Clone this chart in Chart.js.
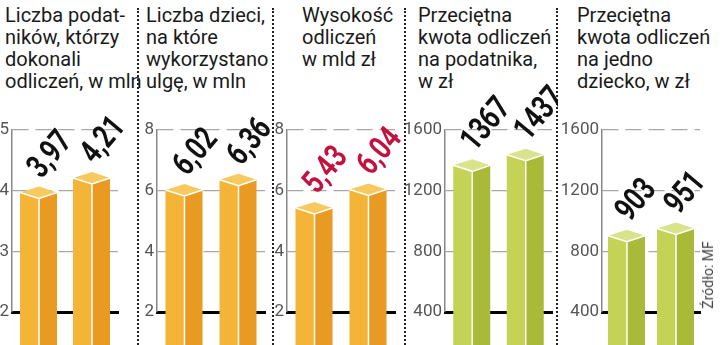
<!DOCTYPE html>
<html>
<head>
<meta charset="utf-8">
<script src="https://cdn.jsdelivr.net/npm/chart.js@4.4.1/dist/chart.umd.min.js"></script>
<style>
  html, body { margin: 0; padding: 0; background: #fff; }
  #wrap { position: relative; width: 720px; height: 345px; overflow: hidden; font-family: Roboto, "Liberation Sans", sans-serif; }
  canvas { position: absolute; top: 0; }
  .title { position: absolute; top: 4px; font-size: 20px; line-height: 22px; color: #1a1a1a; white-space: nowrap; }
  .sep { position: absolute; top: 8px; bottom: 0; width: 0; border-left: 2px dotted #222; }
  #src { position: absolute; left: 708px; top: 275px; font-size: 14px; color: #444; white-space: nowrap;
         transform: translate(-50%, -50%) rotate(-90deg); }
</style>
</head>
<body>
<div id="wrap">
  <div class="title" style="left:5px">Liczba podat-<br>ników, którzy<br>dokonali<br>odliczeń, w mln</div>
  <div class="title" style="left:146px">Liczba dzieci,<br>na które<br>wykorzystano<br>ulgę, w mln</div>
  <div class="title" style="left:302px">Wysokość<br>odliczeń<br>w mld zł</div>
  <div class="title" style="left:418px">Przeciętna<br>kwota odliczeń<br>na podatnika,<br>w zł</div>
  <div class="title" style="left:577px">Przeciętna<br>kwota odliczeń<br>na jedno<br>dziecko, w zł</div>
  <div class="sep" style="left:137px"></div>
  <div class="sep" style="left:272px"></div>
  <div class="sep" style="left:404px"></div>
  <div class="sep" style="left:556px"></div>
  <canvas id="c1"></canvas>
  <canvas id="c2"></canvas>
  <canvas id="c3"></canvas>
  <canvas id="c4"></canvas>
  <canvas id="c5"></canvas>
  <div id="src">Źródło: MF</div>
</div>
<script>
// data
const years = ["' 07", "' 08"];
const taxpayers = [3.97, 4.21];       // mln
const children = [6.02, 6.36];        // mln
const deductionTotal = [5.43, 6.04];  // mld zł
const perTaxpayer = [1367, 1437];     // zł
const perChild = [903, 951];          // zł

const ticksSmall = [2, 5, 1];
const ticksMid = [2, 8, 2];
const ticksBig = [400, 1600, 400];

const orange = { front: '#f3b437', side: '#e89a22', top: '#f7c95e' };
const green = { front: '#c4d255', side: '#a9ba38', top: '#d9e38c' };

const panels = [
  { id: 'c1', left: 0,   width: 138, axisW: 12, padR: 20, data: taxpayers,      range: ticksSmall, pal: orange, dec: 2, lbl: '#111' },
  { id: 'c2', left: 138, width: 135, axisW: 19, padR: 8,  data: children,       range: ticksMid,   pal: orange, dec: 2, lbl: '#111' },
  { id: 'c3', left: 273, width: 132, axisW: 14, padR: 10, data: deductionTotal, range: ticksMid,   pal: orange, dec: 2, lbl: '#c2123f' },
  { id: 'c4', left: 405, width: 153, axisW: 40, padR: 6,  data: perTaxpayer,    range: ticksBig,   pal: green,  dec: 0, lbl: '#111' },
  { id: 'c5', left: 558, width: 162, axisW: 44, padR: 20, data: perChild,       range: ticksBig,   pal: green,  dec: 0, lbl: '#111' }
];

// draws each bar as a little 3D column, using the bar element geometry
const bar3d = {
  id: 'bar3d',
  afterDatasetsDraw(chart, args, opts) {
    const ctx = chart.ctx;
    const meta = chart.getDatasetMeta(0);
    const values = chart.data.datasets[0].data;
    meta.data.forEach((el, i) => {
      const p = el.getProps(['x', 'y', 'base', 'width'], true);
      const l = p.x - p.width / 2, r = p.x + p.width / 2, m = p.x + 0.5, d = 6;
      const y = p.y, b = p.base;
      ctx.save();
      ctx.fillStyle = opts.pal.front;
      ctx.beginPath();
      ctx.moveTo(l, y); ctx.lineTo(m, y + d); ctx.lineTo(m, b + 4); ctx.lineTo(l, b - 1);
      ctx.closePath(); ctx.fill();
      ctx.fillStyle = opts.pal.side;
      ctx.beginPath();
      ctx.moveTo(m, y + d); ctx.lineTo(r, y); ctx.lineTo(r, b - 1); ctx.lineTo(m, b + 4);
      ctx.closePath(); ctx.fill();
      ctx.fillStyle = opts.pal.top;
      ctx.beginPath();
      ctx.moveTo(l, y); ctx.lineTo(m, y - d); ctx.lineTo(r, y); ctx.lineTo(m, y + d);
      ctx.closePath(); ctx.fill();
      ctx.strokeStyle = '#fff';
      ctx.lineWidth = 1.5;
      ctx.beginPath();
      ctx.moveTo(l, y); ctx.lineTo(m, y + d); ctx.lineTo(r, y);
      ctx.moveTo(m, y + d); ctx.lineTo(m, b + 4);
      ctx.stroke();

      // rotated value label, condensed like the original
      const v = values[i];
      const txt = opts.dec ? v.toFixed(opts.dec).replace('.', ',') : String(v);
      ctx.translate(p.x + 3, y - 13);
      ctx.rotate(-50 * Math.PI / 180);
      ctx.scale(0.76, 1);
      ctx.font = 'bold 33px Roboto, "Liberation Sans", sans-serif';
      ctx.fillStyle = opts.color;
      ctx.textAlign = 'left';
      ctx.textBaseline = 'alphabetic';
      ctx.fillText(txt, 0, 0);
      ctx.restore();
    });
  }
};

const charts = {};
panels.forEach(pn => {
  const cv = document.getElementById(pn.id);
  cv.width = pn.width; cv.height = 345;
  cv.style.left = pn.left + 'px';
  cv.style.width = pn.width + 'px'; cv.style.height = '345px';
  charts[pn.id] = new Chart(cv, {
    type: 'bar',
    data: {
      labels: years,
      datasets: [{ data: pn.data, backgroundColor: 'rgba(0,0,0,0)', barThickness: 37 }]
    },
    options: {
      responsive: false,
      animation: false,
      layout: { padding: { top: 130, right: pn.padR, left: 0, bottom: 0 } },
      plugins: {
        legend: { display: false },
        tooltip: { enabled: false },
        bar3d: { pal: pn.pal, dec: pn.dec, color: pn.lbl }
      },
      scales: {
        x: {
          grid: { display: false },
          border: { color: '#000', width: 3 },
          ticks: { color: '#1a1a1a', padding: 6, font: { family: 'Roboto', size: 22 } },
          afterFit: s => { s.height = 33; }
        },
        y: {
          min: pn.range[0], max: pn.range[1],
          grid: { color: '#a8a8a8', lineWidth: 1.2, drawTicks: false },
          border: { color: '#888', width: 1.5, dash: [16, 7] },
          ticks: {
            stepSize: pn.range[2], padding: 3, color: '#555',
            font: { family: 'Roboto', size: 17 },
            callback: v => String(v)
          },
          afterFit: s => { s.width = pn.axisW; }
        }
      }
    },
    plugins: [bar3d]
  });
});
</script>
</body>
</html>
